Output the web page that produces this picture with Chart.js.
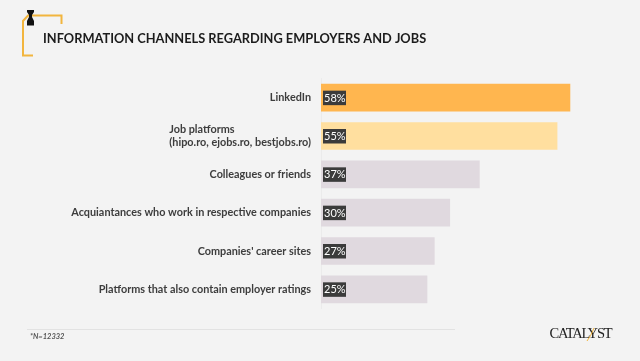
<!DOCTYPE html>
<html>
<head>
<meta charset="utf-8">
<style>
  html, body { margin: 0; padding: 0; background: #f3f3f3; }
  #wrap { position: relative; width: 640px; height: 361px; }
</style>
<script src="https://cdn.jsdelivr.net/npm/chart.js@4"></script>
</head>
<body>
<div id="wrap"><canvas id="chart" width="640" height="361"></canvas></div>
<script>
const categories = [
  "LinkedIn",
  ["Job platforms".padEnd(42, " "), "(hipo.ro, ejobs.ro, bestjobs.ro)"],
  "Colleagues or friends",
  "Acquiantances who work in respective companies",
  "Companies' career sites",
  "Platforms that also contain employer ratings"
];
// printed labels, and the bar lengths as they measure in the picture
const shareLabels = ["58%", "55%", "37%", "30%", "27%", "25%"];
const shares = [58, 55, 36.9, 30, 26.4, 24.7];
const barColors = ["#ffb64f", "#ffdf9f", "#e0d9df", "#e0d9df", "#e0d9df", "#e0d9df"];

// dark percent boxes at the start of each bar
const percentBoxes = {
  id: "percentBoxes",
  afterDatasetsDraw(chart) {
    const ctx = chart.ctx;
    const x = chart.scales.x.getPixelForValue(0);
    chart.getDatasetMeta(0).data.forEach((bar, i) => {
      ctx.fillStyle = "#3b3b3b";
      ctx.fillRect(x + 2, bar.y - 7, 23, 14.5);
      ctx.fillStyle = "#ffffff";
      ctx.font = "11px Lato";
      ctx.textAlign = "left";
      ctx.textBaseline = "middle";
      ctx.fillText(shareLabels[i], x + 3, bar.y + 0.5);
    });
  }
};

// title bracket, footnote and logo
const decorations = {
  id: "decorations",
  beforeDraw(chart) {
    const ctx = chart.ctx;
    ctx.save();
    ctx.fillStyle = "#f3f3f3";
    ctx.fillRect(0, 0, 640, 361);

    ctx.strokeStyle = "#f2b53e";
    ctx.lineWidth = 2;
    ctx.beginPath();
    ctx.moveTo(33, 55.5);
    ctx.lineTo(23, 55.5);
    ctx.lineTo(23, 21);
    ctx.lineTo(28, 15.5);
    ctx.lineTo(61.5, 15.5);
    ctx.lineTo(61.5, 24);
    ctx.stroke();

    ctx.fillStyle = "#111111";
    ctx.beginPath();
    ctx.moveTo(27, 10);
    ctx.lineTo(34, 10);
    ctx.lineTo(34, 12);
    ctx.lineTo(32, 15);
    ctx.lineTo(32, 17);
    ctx.lineTo(34, 21);
    ctx.lineTo(34, 25.5);
    ctx.lineTo(27, 25.5);
    ctx.lineTo(27, 21);
    ctx.lineTo(29, 17);
    ctx.lineTo(29, 15);
    ctx.lineTo(27, 12);
    ctx.closePath();
    ctx.fill();

    ctx.fillStyle = "#1c1c1c";
    ctx.font = "bold 12.8px Lato";
    ctx.textAlign = "left";
    ctx.textBaseline = "middle";
    ctx.fillText("INFORMATION CHANNELS REGARDING EMPLOYERS AND JOBS", 43, 38.5);

    ctx.strokeStyle = "#e2e2e2";
    ctx.lineWidth = 1;
    ctx.beginPath();
    ctx.moveTo(27, 329.5);
    ctx.lineTo(455, 329.5);
    ctx.stroke();

    ctx.fillStyle = "#555555";
    ctx.font = "italic bold 7.5px Lato";
    ctx.fillText("*N=12332", 30, 337);

    ctx.fillStyle = "#222222";
    ctx.font = "14.5px 'Liberation Serif'";
    ctx.letterSpacing = "-1.2px";
    ctx.fillText("CATALYST", 549.5, 334);
    ctx.letterSpacing = "0px";

    ctx.strokeStyle = "#f2b53e";
    ctx.lineWidth = 1;
    ctx.beginPath();
    ctx.moveTo(594, 328);
    ctx.quadraticCurveTo(591, 336, 587, 341);
    ctx.stroke();
    ctx.restore();
  }
};

new Chart(document.getElementById("chart").getContext("2d"), {
  type: "bar",
  data: {
    labels: categories,
    datasets: [{
      data: shares,
      backgroundColor: barColors,
      borderWidth: 0,
      barThickness: 27
    }]
  },
  options: {
    indexAxis: "y",
    responsive: false,
    animation: false,
    layout: { padding: { top: 78.5, bottom: 52.5, left: 0, right: 40 } },
    plugins: {
      legend: { display: false },
      tooltip: { enabled: false }
    },
    scales: {
      x: {
        min: 0,
        max: 65,
        display: false
      },
      y: {
        afterFit(scale) { scale.width = 321; },
        grid: { display: false, drawTicks: false },
        border: { display: true, color: "#ebebeb", width: 1 },
        ticks: {
          color: "#3d3d3d",
          padding: 10,
          font: { family: "Lato", size: 10.85, weight: "bold" }
        }
      }
    }
  },
  plugins: [decorations, percentBoxes]
});
</script>
</body>
</html>
